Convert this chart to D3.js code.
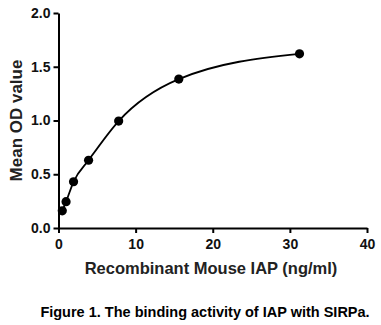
<!DOCTYPE html>
<html>
<head>
<meta charset="utf-8">
<script src="https://cdn.jsdelivr.net/npm/d3@7/dist/d3.min.js"></script>
<style>
  html, body { margin: 0; padding: 0; background: #fff; }
  svg { display: block; }
  text { font-family: "Liberation Sans", Arial, sans-serif; font-weight: bold; }
</style>
</head>
<body>
<svg id="chart" width="381" height="325"></svg>
<script>
// IAP concentration (ng/ml), two-fold dilution series
const concentrations = [0.49, 0.98, 1.95, 3.9, 7.8, 15.6, 31.25];
// Mean OD readings at each concentration
const meanOD = [0.16, 0.245, 0.43, 0.63, 0.995, 1.385, 1.62];
const xTicks = [0, 10, 20, 30, 40];
const yTicks = [0, 0.5, 1.0, 1.5, 2.0];

const svg = d3.select("#chart");
const margin = { left: 58.5, right: 14, top: 13, bottom: 97 };
const W = 381, H = 325;

const x = d3.scaleLinear().domain([0, 40]).range([margin.left, W - margin.right]);
const y = d3.scaleLinear().domain([0, 2.0]).range([H - margin.bottom, margin.top]);

// Axes
const xAxis = svg.append("g")
  .attr("transform", `translate(0,${y(0)})`)
  .call(d3.axisBottom(x).tickValues(xTicks).tickFormat(d3.format("d")).tickSize(5).tickSizeOuter(0));
const yAxis = svg.append("g")
  .attr("transform", `translate(${x(0)},0)`)
  .call(d3.axisLeft(y).tickValues(yTicks).tickFormat(d3.format(".1f")).tickSize(5).tickSizeOuter(0));

[xAxis, yAxis].forEach(g => {
  g.select(".domain").attr("stroke", "#000").attr("stroke-width", 2);
  g.selectAll(".tick line").attr("stroke", "#000").attr("stroke-width", 2);
  g.selectAll(".tick text").attr("fill", "#111").style("font-size", "14px").style("font-weight", "bold")
    .style("font-family", "'Liberation Sans', Arial, sans-serif");
});
xAxis.selectAll(".tick text").attr("dy", "0.9em").attr("y", 8);
yAxis.selectAll(".tick text").attr("x", -8);

// Binding curve through the readings
const pts = concentrations.map((c, i) => [c, meanOD[i]]);
svg.append("path")
  .datum(pts)
  .attr("fill", "none")
  .attr("stroke", "#000")
  .attr("stroke-width", 1.8)
  .attr("d", d3.line().x(d => x(d[0])).y(d => y(d[1])).curve(d3.curveMonotoneX));

svg.append("g").selectAll("circle")
  .data(pts)
  .join("circle")
  .attr("cx", d => x(d[0]))
  .attr("cy", d => y(d[1]))
  .attr("r", 4.6)
  .attr("fill", "#000");

// Axis titles
svg.append("text")
  .attr("x", 211).attr("y", 274)
  .attr("text-anchor", "middle")
  .attr("fill", "#222")
  .style("font-size", "16.5px")
  .text("Recombinant Mouse IAP (ng/ml)");

svg.append("text")
  .attr("transform", `translate(22,${(y(0) + y(2)) / 2}) rotate(-90)`)
  .attr("text-anchor", "middle")
  .attr("fill", "#222")
  .style("font-size", "17px")
  .text("Mean OD value");

// Caption
svg.append("text")
  .attr("x", 205).attr("y", 317)
  .attr("text-anchor", "middle")
  .attr("fill", "#000")
  .style("font-size", "14.5px")
  .text("Figure 1. The binding activity of IAP with SIRPa.");
</script>
</body>
</html>
